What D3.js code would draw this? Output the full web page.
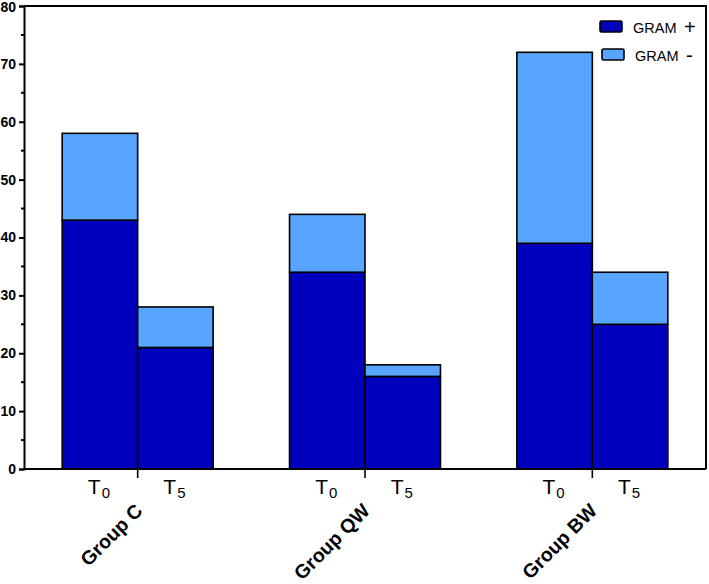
<!DOCTYPE html>
<html>
<head>
<meta charset="utf-8">
<script src="https://cdn.jsdelivr.net/npm/d3@7"></script>
<style>
  body { margin: 0; background: #fff; }
  svg { display: block; font-family: "Liberation Sans", Arial, sans-serif; }
</style>
</head>
<body>
<svg id="chart"></svg>
<script>
// data
const groups   = ["Group C", "Group QW", "Group BW"];
const times    = ["0", "5"];
const gramPos  = [43, 21, 34, 16, 39, 25];
const gramNeg  = [15, 7, 10, 2, 33, 9];
const seriesNames = ["GRAM +", "GRAM -"];
const yTicks   = [0, 10, 20, 30, 40, 50, 60, 70, 80];

const W = 709, H = 584;
const plot = {left: 24, right: 706, top: 6, bottom: 469};

const svg = d3.select("#chart").attr("width", W).attr("height", H);

let rows = [];
groups.forEach(function(g, i) {
  times.forEach(function(t, j) {
    let k = i * times.length + j;
    rows.push({group: g, time: t, pos: gramPos[k], neg: gramNeg[k]});
  });
});

const x0 = d3.scaleBand().domain(groups).range([plot.left, plot.right])
  .paddingInner(0.336).paddingOuter(0.168);
const x1 = d3.scaleBand().domain(times).range([0, x0.bandwidth()]);
const y  = d3.scaleLinear().domain([0, 80]).range([plot.bottom, plot.top]);

const color = d3.scaleOrdinal().domain(["pos", "neg"]).range(["#0000BD", "#57A5FF"]);

const stacked = d3.stack().keys(["pos", "neg"])(rows);

// bars
svg.append("g").selectAll("g")
  .data(stacked)
  .enter().append("g")
    .attr("fill", function(d) { return color(d.key); })
  .selectAll("rect")
  .data(function(d) { return d; })
  .enter().append("rect")
    .attr("x", function(d) { return x0(d.data.group) + x1(d.data.time); })
    .attr("width", x1.bandwidth())
    .attr("y", function(d) { return y(d[1]); })
    .attr("height", function(d) { return y(d[0]) - y(d[1]); })
    .attr("stroke", "#000")
    .attr("stroke-width", 1.6);

// frame top + right
svg.append("path")
  .attr("d", "M" + plot.left + "," + plot.top + "H" + plot.right + "V" + plot.bottom)
  .attr("fill", "none").attr("stroke", "#000").attr("stroke-width", 2);

// y axis
const yAxis = d3.axisLeft(y).tickValues(yTicks).tickSize(5).tickPadding(3);
const gy = svg.append("g").attr("transform", "translate(" + plot.left + ",0)").call(yAxis);
gy.select(".domain").attr("stroke-width", 2);
gy.selectAll(".tick line").attr("stroke-width", 2);
gy.selectAll(".tick text")
  .style("font-size", "14px").style("font-weight", "bold").attr("fill", "#000")
  .attr("dy", function(d) { return d === 80 ? "0.42em" : "0.32em"; });
gy.selectAll(".minor")
  .data(yTicks.slice(0, -1))
  .enter().append("line")
    .attr("class", "minor")
    .attr("x1", -3).attr("x2", 0)
    .attr("y1", function(d) { return y(d + 5); })
    .attr("y2", function(d) { return y(d + 5); })
    .attr("stroke", "#000").attr("stroke-width", 2);

// x axis
const xAxis = d3.axisBottom(x0).tickSize(9).tickFormat("");
const gx = svg.append("g").attr("transform", "translate(0," + plot.bottom + ")").call(xAxis);
gx.select(".domain").attr("d", "M" + plot.left + ",0H" + plot.right).attr("stroke-width", 2);
gx.selectAll(".tick line").attr("stroke-width", 1.6);

// T0 / T5 labels
let tl = svg.append("g").selectAll("text")
  .data(rows)
  .enter().append("text")
    .attr("x", function(d) { return x0(d.group) + x1(d.time) + x1.bandwidth() / 2 - 1; })
    .attr("y", 494)
    .attr("text-anchor", "middle")
    .style("font-size", "21px")
    .attr("fill", "#000");
tl.append("tspan").text("T");
tl.append("tspan").attr("dy", 4).attr("dx", 1).style("font-size", "15px").text(function(d) { return d.time; });

// group labels
svg.append("g").selectAll("text")
  .data(groups)
  .enter().append("text")
    .attr("transform", function(d) {
      return "translate(" + (x0(d) + x0.bandwidth() / 2 + 6) + ",512) rotate(-45)";
    })
    .attr("text-anchor", "end")
    .style("font-size", "19.5px")
    .style("font-weight", "bold")
    .attr("fill", "#000")
    .text(function(d) { return d; });

// legend
let legend = svg.selectAll(".legend")
  .data(["pos", "neg"])
  .enter().append("g")
    .attr("class", "legend")
    .attr("transform", function(d, i) { return "translate(" + (600 + i * 2) + "," + (21 + i * 28) + ")"; });

legend.append("rect")
  .attr("width", 22).attr("height", 11).attr("rx", 1.5)
  .attr("fill", function(d) { return color(d); })
  .attr("stroke", "#000").attr("stroke-width", 1.6);

let lt = legend.append("text")
  .attr("x", 33).attr("y", 12)
  .style("font-size", "14.5px")
  .attr("fill", "#000");
lt.append("tspan").text(function(d, i) { return seriesNames[i].split(" ")[0]; });
lt.append("tspan").style("font-size", "20px").attr("dx", 2).attr("dy", 1)
  .text(function(d, i) { return " " + seriesNames[i].split(" ")[1]; });
</script>
</body>
</html>
